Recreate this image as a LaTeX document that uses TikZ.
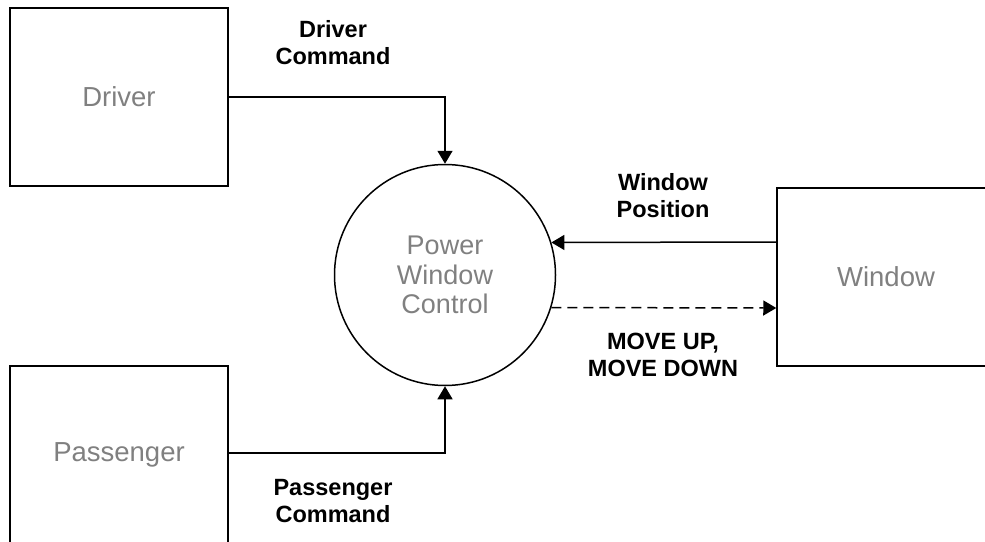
\documentclass[tikz,border=0pt]{standalone}
\usepackage{fontspec}
\setmainfont{Liberation Sans}
\usetikzlibrary{arrows.meta}
\begin{document}
\begin{tikzpicture}[x=1pt,y=-1pt,
	entity/.style={draw,line width=1.5pt,minimum width=218pt,minimum height=178pt,inner sep=0pt,text=gray,font=\fontsize{27.5}{29}\selectfont},
	process/.style={draw,circle,line width=1.5pt,minimum size=221pt,inner sep=0pt,text=gray,align=center,font=\fontsize{27}{29.5}\selectfont},
	flow/.style={line width=1.5pt,-{Triangle[width=15pt,length=13pt]}},
	flowlabel/.style={align=center,font=\bfseries\fontsize{23.5}{27}\selectfont}]
	\useasboundingbox (0,0) rectangle (985,541);

	\node[entity] (driver) at (119,97) {Driver};
	\node[entity] (passenger) at (119,455) {Passenger};
	\node[entity] (window) at (886,277) {Window};
	\node[process] (pwc) at (445,275) {Power\\Window\\Control};

	\draw[flow] (driver.east) -| (pwc.north);
	\draw[flow] ([yshift=2pt]passenger.east) -| (pwc.south);
	\draw[flow] ([yshift=35pt]window.west) -- (pwc.17.46);
	\draw[flow,dash pattern=on 10pt off 6pt] (pwc.-17.46) -- ([yshift=-31pt]window.west);

	% labels of the flows
	\node[flowlabel] (drvcmd) at (333,43) {Driver\\Command};
	\node[flowlabel] (pascmd) at (333,501) {Passenger\\Command};
	\node[flowlabel] (winpos) at (663,196) {Window\\Position};
	\node[flowlabel] (move) at (663,355) {MOVE UP,\\MOVE DOWN};
\end{tikzpicture}
\end{document}
